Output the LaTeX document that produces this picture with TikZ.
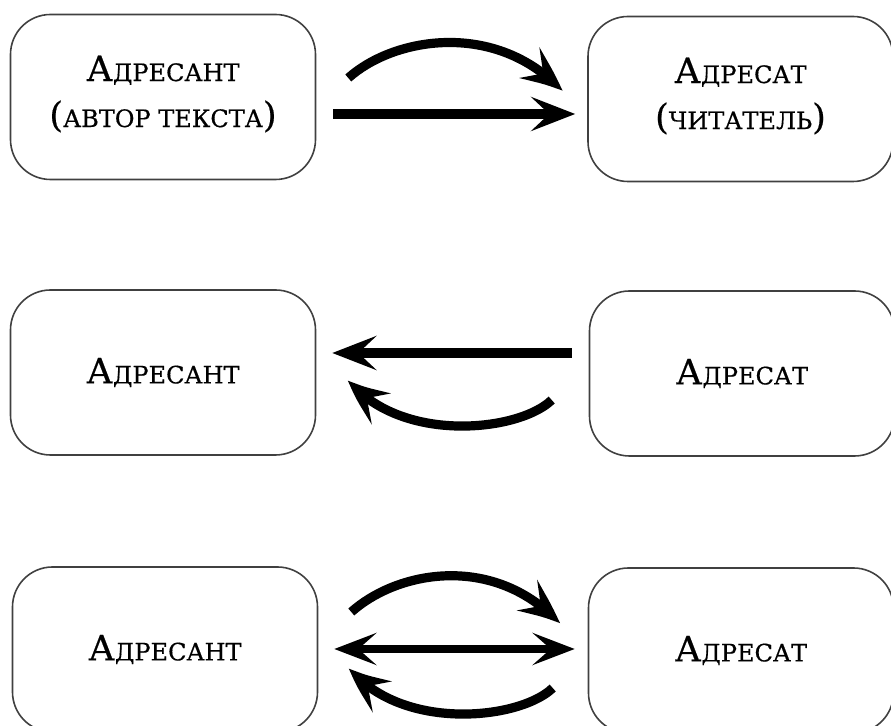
\documentclass[tikz,border=0pt]{standalone}
\usepackage{fontspec}
\setmainfont{DejaVu Serif}[FakeBold=0.5]
\usetikzlibrary{arrows.meta,bending,positioning}

\newcommand\smc[1]{{\fontsize{12}{23}\selectfont #1}}

\tikzset{
  box/.style={draw=black!75, line width=0.8pt, rounded corners=20pt,
    minimum width=152.5pt, minimum height=82.5pt, inner sep=0pt},
  lbl/.style={align=center, font=\fontsize{17.5}{23}\selectfont},
  arr/.style={line width=4.6pt, -{Stealth[length=22pt,width=17pt,inset=9pt]}},
  darr/.style={line width=4.2pt, {Stealth[length=21pt,width=16pt,inset=9pt]}-{Stealth[length=21pt,width=16pt,inset=9pt]}},
  carr/.style={line width=4.6pt, -{Stealth[length=22pt,width=18pt,inset=9pt,bend]}},
}

\begin{document}
\begin{tikzpicture}[x=0.5pt,y=-0.5pt]
\clip (0,0) rectangle (891,726);

% row 1: one-way, author to reader
\node[box] (a1) at (163,97) {};
\node[box] (b1) at (740.5,99) {};
\node[lbl] (ta1) at ([shift={(0,-3)}]a1.center) {А\smc{ДРЕСАНТ}\\(\smc{АВТОР ТЕКСТА})};
\node[lbl] (tb1) at ([shift={(0,-3)}]b1.center) {А\smc{ДРЕСАТ}\\(\smc{ЧИТАТЕЛЬ})};

\draw[carr] ([shift={(32,-19)}]a1.east) .. controls +(47,-42) and +(-65,-70) .. ([shift={(-25,-8)}]b1.west);
\draw[arr] ([shift={(17,17)}]a1.east) -- ([shift={(-12,15)}]b1.west);

% row 2: reader to author
\node[box] (a2) at (163,372.5) {};
\node[box] (b2) at (742,373.5) {};
\node[lbl] (ta2) at (a2.center) {А\smc{ДРЕСАНТ}};
\node[lbl] (tb2) at (b2.center) {А\smc{ДРЕСАТ}};

\draw[arr] ([shift={(-17,-20.5)}]b2.west) -- ([shift={(16,-19.5)}]a2.east);
\draw[carr] ([shift={(-37,26.5)}]b2.west) .. controls +(-33,32) and +(52,64) .. ([shift={(32,7.5)}]a2.east);

% row 3: both ways
\node[box] (a3) at (165,649.5) {};
\node[box] (b3) at (741,650.5) {};
\node[lbl] (ta3) at (a3.center) {А\smc{ДРЕСАНТ}};
\node[lbl] (tb3) at (b3.center) {А\smc{ДРЕСАТ}};

\draw[carr] ([shift={(33,-37.5)}]a3.east) .. controls +(47,-42) and +(-65,-70) .. ([shift={(-28,-27)}]b3.west);
\draw[darr] ([shift={(16,-0.5)}]a3.east) -- ([shift={(-13,-1.5)}]b3.west);
\draw[carr] ([shift={(-35,37.5)}]b3.west) .. controls +(-33,32) and +(52,64) .. ([shift={(31,18.5)}]a3.east);

\end{tikzpicture}
\end{document}
